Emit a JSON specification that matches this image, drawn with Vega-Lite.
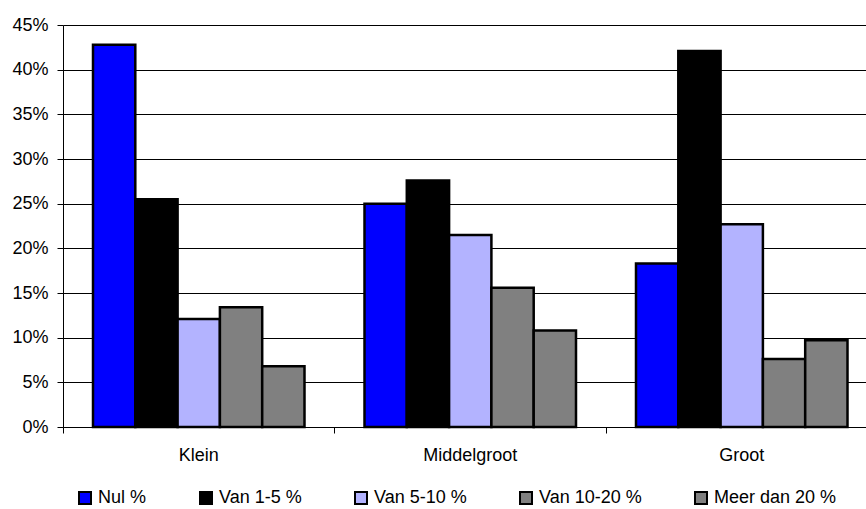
{
  "$schema": "https://vega.github.io/schema/vega-lite/v6.json",
  "width": 803,
  "height": 402,
  "autosize": {"type": "none"},
  "padding": {"left": 63, "top": 25, "right": 0, "bottom": 82},
  "background": "white",
  "config": {"view": {"stroke": null}, "font": "Liberation Sans"},
  "data": {
    "values": [
      {"grootte": "Klein", "categorie": "Nul %", "aandeel": 0.428},
      {"grootte": "Klein", "categorie": "Van 1-5 %", "aandeel": 0.255},
      {"grootte": "Klein", "categorie": "Van 5-10 %", "aandeel": 0.121},
      {"grootte": "Klein", "categorie": "Van 10-20 %", "aandeel": 0.134},
      {"grootte": "Klein", "categorie": "Meer dan 20 %", "aandeel": 0.068},
      {"grootte": "Middelgroot", "categorie": "Nul %", "aandeel": 0.250},
      {"grootte": "Middelgroot", "categorie": "Van 1-5 %", "aandeel": 0.276},
      {"grootte": "Middelgroot", "categorie": "Van 5-10 %", "aandeel": 0.215},
      {"grootte": "Middelgroot", "categorie": "Van 10-20 %", "aandeel": 0.156},
      {"grootte": "Middelgroot", "categorie": "Meer dan 20 %", "aandeel": 0.108},
      {"grootte": "Groot", "categorie": "Nul %", "aandeel": 0.183},
      {"grootte": "Groot", "categorie": "Van 1-5 %", "aandeel": 0.421},
      {"grootte": "Groot", "categorie": "Van 5-10 %", "aandeel": 0.227},
      {"grootte": "Groot", "categorie": "Van 10-20 %", "aandeel": 0.076},
      {"grootte": "Groot", "categorie": "Meer dan 20 %", "aandeel": 0.097}
    ]
  },
  "mark": {"type": "bar", "stroke": "black", "strokeWidth": 2.5},
  "encoding": {
    "x": {
      "field": "grootte",
      "type": "nominal",
      "sort": ["Klein", "Middelgroot", "Groot"],
      "scale": {"range": [0, 814.5], "paddingInner": 0.221, "paddingOuter": 0.1105},
      "axis": {
        "title": null,
        "labelAngle": 0,
        "labelFont": "Liberation Sans",
        "labelFontSize": 18,
        "labelColor": "black",
        "labelPadding": 13,
        "domainColor": "black",
        "domainWidth": 1,
        "tickColor": "black",
        "tickSize": 6,
        "tickWidth": 1,
        "bandPosition": -0.1418,
        "grid": false
      }
    },
    "xOffset": {
      "field": "categorie",
      "type": "nominal",
      "sort": ["Nul %", "Van 1-5 %", "Van 5-10 %", "Van 10-20 %", "Meer dan 20 %"],
      "scale": {"paddingInner": 0, "paddingOuter": 0}
    },
    "y": {
      "field": "aandeel",
      "type": "quantitative",
      "scale": {"domain": [0, 0.45], "nice": false},
      "axis": {
        "title": null,
        "format": ".0%",
        "values": [0, 0.05, 0.1, 0.15, 0.2, 0.25, 0.3, 0.35, 0.4, 0.45],
        "grid": true,
        "gridColor": "black",
        "gridOpacity": 1,
        "gridWidth": 1,
        "domainColor": "black",
        "domainWidth": 1,
        "tickColor": "black",
        "tickSize": 6,
        "tickWidth": 1,
        "labelFont": "Liberation Sans",
        "labelFontSize": 18,
        "labelColor": "black",
        "labelPadding": 9
      }
    },
    "color": {
      "field": "categorie",
      "type": "nominal",
      "sort": ["Nul %", "Van 1-5 %", "Van 5-10 %", "Van 10-20 %", "Meer dan 20 %"],
      "scale": {
        "domain": ["Nul %", "Van 1-5 %", "Van 5-10 %", "Van 10-20 %", "Meer dan 20 %"],
        "range": ["#0000FF", "#000000", "#B3B3FF", "#808080", "#808080"]
      },
      "legend": {
        "title": null,
        "orient": "none",
        "legendX": 13,
        "legendY": 464,
        "direction": "horizontal",
        "symbolType": "square",
        "symbolSize": 144,
        "symbolStrokeColor": "black",
        "symbolStrokeWidth": 2,
        "symbolOpacity": 1,
        "labelFont": "Liberation Sans",
        "labelFontSize": 18,
        "labelColor": "black",
        "labelOffset": 4,
        "columnPadding": 49,
        "padding": 0,
        "labelLimit": 300
      }
    }
  }
}
